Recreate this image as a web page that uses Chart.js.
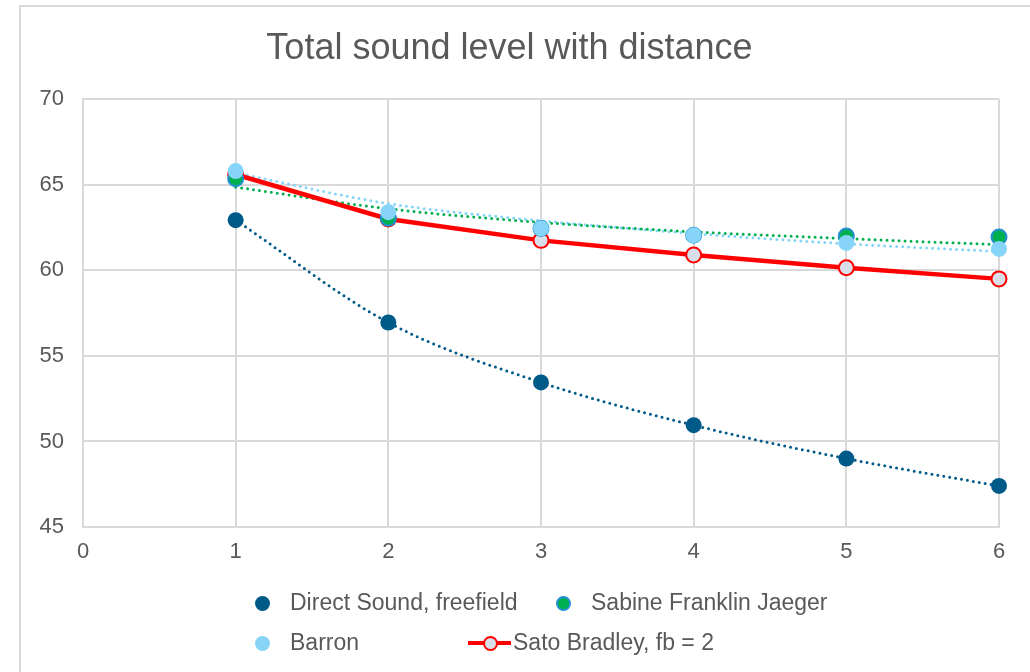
<!DOCTYPE html>
<html>
<head>
<meta charset="utf-8">
<script src="https://cdn.jsdelivr.net/npm/chart.js@4.4.1/dist/chart.umd.min.js"></script>
<style>
  html, body { margin: 0; padding: 0; background: #fff; }
  #wrap { position: relative; width: 1030px; height: 672px; overflow: hidden; }
  #frame { position: absolute; left: 19px; top: 5px; width: 1100px; height: 800px;
           border: 2px solid #d9d9d9; box-sizing: border-box; }
  #myChart { position: absolute; left: 0; top: 0; }
  .leg { position: absolute; font-family: "Liberation Sans", Arial, sans-serif;
         font-size: 23px; color: #595959; white-space: nowrap; line-height: 1; }
  .dot { position: absolute; width: 15px; height: 15px; border-radius: 50%; box-sizing: border-box; }
</style>
</head>
<body>
<div id="wrap">
  <div id="frame"></div>
  <canvas id="myChart" width="1030" height="672"></canvas>
  <div id="legenda"></div>
</div>
<script>
// distance (x) and sound level (dB) for each model
var distance = [1, 2, 3, 4, 5, 6];
var directSound = [62.93, 56.95, 53.45, 50.95, 49.0, 47.4];
var sabineFJ = [65.35, 63.05, 62.45, 62.05, 62.0, 61.95];
var barron = [65.8, 63.4, 62.45, 62.05, 61.6, 61.25];
var satoBradley = [65.6, 63.0, 61.75, 60.9, 60.15, 59.5];

// trendlines (log fit), read at each distance
var sabineTrend = [64.86, 63.6, 62.8, 62.25, 61.85, 61.5];
var barronTrend = [65.7, 63.9, 62.9, 62.15, 61.55, 61.1];

var xTicks = [0, 1, 2, 3, 4, 5, 6];
var yTicks = [45, 50, 55, 60, 65, 70];

var boja = {
    direct: '#005a87',
    green: '#00b050',
    greenEdge: '#2291d0',
    light: '#86d4f7',
    red: '#ff0000',
    redFill: '#d9dfe8',
    text: '#595959',
    grid: '#d9d9d9'
};

function tacke(values){
    let out = [];
    for(let i = 0; i < distance.length; i++){
        out.push({x: distance[i], y: values[i]});
    }
    return out;
}

function trend(values, color, order){
    return {
        label: '',
        data: tacke(values),
        showLine: true,
        borderColor: color,
        borderWidth: 3,
        borderDash: [0, 6],
        borderCapStyle: 'round',
        cubicInterpolationMode: 'monotone',
        pointRadius: 0,
        clip: false,
        order: order
    };
}

var ctx = document.getElementById('myChart');
var font = "'Liberation Sans', Arial, sans-serif";

var myChart = new Chart(ctx, {
    type: 'scatter',
    data: {
        datasets: [
            {
                label: 'Barron',
                data: tacke(barron),
                backgroundColor: boja.light,
                borderColor: boja.light,
                pointRadius: 8,
                pointBorderWidth: 0,
                clip: false,
                order: 0
            },
            {
                label: 'Sabine Franklin Jaeger',
                data: tacke(sabineFJ),
                backgroundColor: boja.green,
                borderColor: boja.greenEdge,
                pointRadius: 7.5,
                pointBorderWidth: 2,
                clip: false,
                order: 1
            },
            {
                label: 'Sato Bradley, fb = 2',
                data: tacke(satoBradley),
                showLine: true,
                borderColor: boja.red,
                borderWidth: 4.5,
                backgroundColor: boja.redFill,
                pointBorderColor: boja.red,
                pointBackgroundColor: boja.redFill,
                pointRadius: 7.5,
                pointBorderWidth: 2,
                clip: false,
                order: 2
            },
            {
                label: 'Direct Sound, freefield',
                data: tacke(directSound),
                backgroundColor: boja.direct,
                borderColor: boja.direct,
                pointRadius: 8,
                pointBorderWidth: 0,
                clip: false,
                order: 3
            },
            trend(directSound, boja.direct, 4),
            trend(sabineTrend, boja.green, 5),
            trend(barronTrend, boja.light, 6)
        ]
    },
    options: {
        responsive: false,
        animation: false,
        layout: {
            padding: {left: 20, right: 31, top: 0, bottom: 100}
        },
        plugins: {
            legend: {display: false},
            tooltip: {enabled: false},
            title: {
                display: true,
                text: 'Total sound level with distance',
                color: boja.text,
                font: {family: font, size: 36, weight: 'normal'},
                padding: {top: 27, bottom: 29}
            }
        },
        scales: {
            x: {
                type: 'linear',
                min: 0,
                max: 6,
                afterBuildTicks: function(axis){
                    axis.ticks = xTicks.map(function(v){ return {value: v}; });
                },
                ticks: {color: boja.text, font: {family: font, size: 22}, padding: 12},
                grid: {color: boja.grid, lineWidth: 2, drawTicks: false},
                border: {color: boja.grid, width: 2},
                afterFit: function(scale){ scale.height = 45; }
            },
            y: {
                min: 45,
                max: 70,
                afterBuildTicks: function(axis){
                    axis.ticks = yTicks.map(function(v){ return {value: v}; });
                },
                ticks: {color: boja.text, font: {family: font, size: 22}, padding: 19},
                grid: {color: boja.grid, lineWidth: 2, drawTicks: false},
                border: {color: boja.grid, width: 2},
                afterFit: function(scale){ scale.width = 63; }
            }
        }
    }
});

// legenda u dve kolone ispod grafika
function napraviLegendu(){
    let mesto = document.getElementById('legenda');
    let stavke = [
        {label: 'Direct Sound, freefield', left: 262, top: 603, tip: 'dot', fill: boja.direct, edge: null},
        {label: 'Sabine Franklin Jaeger', left: 563, top: 603, tip: 'dot', fill: boja.green, edge: boja.greenEdge},
        {label: 'Barron', left: 262, top: 643, tip: 'dot', fill: boja.light, edge: null},
        {label: 'Sato Bradley, fb = 2', left: 490, top: 643, tip: 'line', fill: boja.redFill, edge: boja.red}
    ];
    stavke.forEach(function(s){
        if(s.tip == 'line'){
            let l = document.createElement('div');
            l.style.cssText = 'position:absolute;left:' + (s.left - 22) + 'px;top:' + (s.top - 2) + 'px;width:43px;height:4px;background:' + s.edge;
            mesto.appendChild(l);
        }
        let d = document.createElement('div');
        d.className = 'dot';
        d.style.left = (s.left - 7.5) + 'px';
        d.style.top = (s.top - 7.5) + 'px';
        d.style.background = s.fill;
        if(s.edge){ d.style.border = '2px solid ' + s.edge; }
        mesto.appendChild(d);

        let t = document.createElement('div');
        t.className = 'leg';
        t.textContent = s.label;
        t.style.left = (s.tip == 'line' ? s.left + 23 : s.left + 28) + 'px';
        t.style.top = (s.top - 12) + 'px';
        mesto.appendChild(t);
    });
}
napraviLegendu();
</script>
</body>
</html>
